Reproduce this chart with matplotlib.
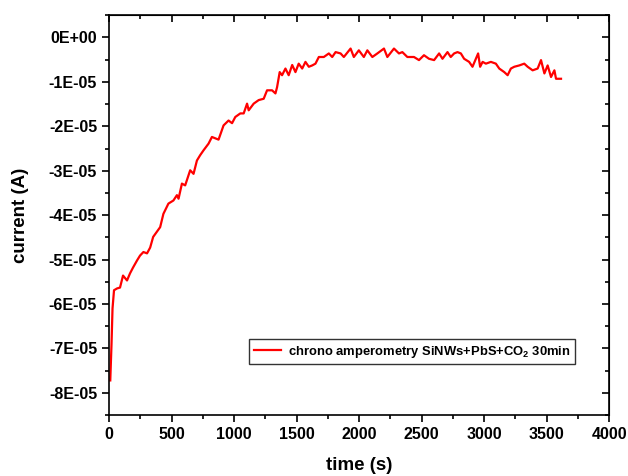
import numpy as np
import matplotlib
matplotlib.use("Agg")
import matplotlib.pyplot as plt
from matplotlib.ticker import MultipleLocator, FuncFormatter

plt.rcParams['font.family'] = ['Liberation Sans', 'DejaVu Sans']
plt.rcParams['font.weight'] = 'bold'
plt.rcParams['mathtext.fontset'] = 'custom'
plt.rcParams['mathtext.rm'] = 'Liberation Sans:bold'
plt.rcParams['mathtext.bf'] = 'Liberation Sans:bold'

# time (s) and current (units of 1E-05 A)
time_s = [10, 20, 28, 40, 64, 88, 112, 144, 168, 192, 224, 248, 275, 304, 329,
          353, 409, 435, 475, 515, 543, 556, 583, 609, 649, 676, 703, 729, 756,
          796, 823, 876, 916, 956, 984, 1010, 1050, 1077, 1104, 1117, 1157, 1197,
          1237, 1264, 1304, 1331, 1344, 1365, 1384, 1411, 1437, 1465, 1491, 1517,
          1545, 1571, 1598, 1625, 1651, 1678, 1718, 1758, 1785, 1812, 1852, 1878,
          1932, 1958, 1998, 2038, 2066, 2106, 2146, 2199, 2226, 2279, 2319, 2346,
          2386, 2439, 2479, 2519, 2559, 2600, 2640, 2667, 2707, 2733, 2760, 2787,
          2814, 2840, 2880, 2907, 2934, 2952, 2968, 2988, 3014, 3054, 3094, 3121,
          3161, 3188, 3214, 3241, 3281, 3321, 3348, 3388, 3428, 3455, 3482, 3508,
          3535, 3562, 3575, 3615]
current_e5 = [-7.72, -6.9, -6.1, -5.69, -5.65, -5.63, -5.36, -5.47, -5.31, -5.18,
              -5.02, -4.91, -4.83, -4.86, -4.73, -4.49, -4.27, -3.97, -3.74, -3.67,
              -3.55, -3.63, -3.29, -3.33, -2.99, -3.07, -2.77, -2.65, -2.54, -2.39,
              -2.24, -2.30, -1.98, -1.87, -1.93, -1.79, -1.71, -1.71, -1.49, -1.64,
              -1.49, -1.41, -1.38, -1.19, -1.19, -1.26, -1.12, -0.78, -0.85, -0.70,
              -0.85, -0.62, -0.78, -0.59, -0.70, -0.55, -0.66, -0.63, -0.59, -0.44,
              -0.44, -0.36, -0.44, -0.33, -0.36, -0.44, -0.25, -0.44, -0.29, -0.44,
              -0.29, -0.44, -0.36, -0.25, -0.44, -0.25, -0.36, -0.33, -0.44, -0.44,
              -0.51, -0.40, -0.48, -0.51, -0.36, -0.48, -0.33, -0.44, -0.36, -0.33,
              -0.36, -0.48, -0.55, -0.66, -0.48, -0.36, -0.66, -0.55, -0.59, -0.55,
              -0.59, -0.70, -0.78, -0.85, -0.70, -0.66, -0.63, -0.59, -0.66, -0.74,
              -0.70, -0.51, -0.81, -0.63, -0.89, -0.74, -0.93, -0.93]

t = np.array(time_s)
current = np.array(current_e5) * 1e-5

fig = plt.figure(figsize=(6.28, 4.76), dpi=100)
ax = fig.add_axes([0.1736, 0.128, 0.7964, 0.840])

ax.plot(t, current, color='#ff0000', lw=1.6,
        label=r'chrono amperometry SiNWs+PbS+CO$_\mathbf{2}$ 30min')

ax.set_xlim(0, 4000)
ax.set_ylim(-8.5e-5, 0.5e-5)
ax.xaxis.set_major_locator(MultipleLocator(500))
ax.xaxis.set_minor_locator(MultipleLocator(250))
ax.yaxis.set_major_locator(MultipleLocator(1e-5))
ax.yaxis.set_minor_locator(MultipleLocator(0.5e-5))
ax.yaxis.set_major_formatter(FuncFormatter(lambda v, p: f"{v:.0E}".replace("-0E", "0E")))

ax.tick_params(which='both', direction='out', width=1.2, labelsize=11.5)
ax.tick_params(which='major', length=5)
ax.tick_params(which='minor', length=3)
for s in ax.spines.values():
    s.set_linewidth(1.2)

# mirrored ticks pointing inwards on top and right
top = ax.secondary_xaxis('top')
top.xaxis.set_major_locator(MultipleLocator(500))
top.xaxis.set_minor_locator(MultipleLocator(250))
top.tick_params(which='both', direction='in', width=1.2, labeltop=False)
top.tick_params(which='major', length=5)
top.tick_params(which='minor', length=3)
right = ax.secondary_yaxis('right')
right.yaxis.set_major_locator(MultipleLocator(1e-5))
right.yaxis.set_minor_locator(MultipleLocator(0.5e-5))
right.tick_params(which='both', direction='in', width=1.2, labelright=False)
right.tick_params(which='major', length=5)
right.tick_params(which='minor', length=3)

ax.set_xlabel('time (s)', fontsize=13.5, fontweight='bold', labelpad=11)
ax.set_ylabel('current (A)', fontsize=13.5, fontweight='bold', labelpad=14)

leg = ax.legend(loc='lower right', bbox_to_anchor=(0.932, 0.1275), fontsize=9.4,
                frameon=True, fancybox=False, handlelength=2.1, borderpad=0.35,
                handletextpad=0.5, borderaxespad=0)
leg.get_frame().set_edgecolor('black')
leg.get_frame().set_linewidth(1.0)

fig.savefig('out.png', dpi=100)
